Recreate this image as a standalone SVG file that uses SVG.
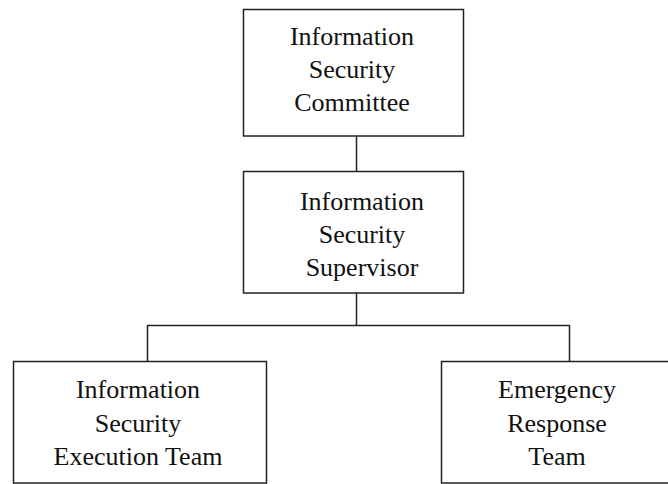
<svg xmlns="http://www.w3.org/2000/svg" width="668" height="484" viewBox="0 0 668 484">
<style>
.box{fill:#fff;stroke:#222;stroke-width:1.5}
.ln{fill:none;stroke:#222;stroke-width:1.5}
text{font-family:"Liberation Serif","Times New Roman",serif;font-size:26px;fill:#111;text-anchor:middle}
</style>
<rect width="668" height="484" fill="#fff"/>
<g id="connectors">
<line class="ln" x1="356.5" y1="136" x2="356.5" y2="171"/>
<line class="ln" x1="356.5" y1="293" x2="356.5" y2="325"/>
<polyline class="ln" points="147.5,361 147.5,325.5 569.5,325.5 569.5,361"/>
</g>
<g id="committee">
<rect class="box" x="243.5" y="9.5" width="220" height="126.5"/>
<text x="352" y="45">Information</text>
<text x="352" y="78">Security</text>
<text x="352" y="111">Committee</text>
</g>
<g id="supervisor">
<rect class="box" x="243.5" y="171.5" width="220" height="121.5"/>
<text x="362" y="210">Information</text>
<text x="362" y="243">Security</text>
<text x="362" y="276">Supervisor</text>
</g>
<g id="execution">
<rect class="box" x="13.5" y="361.5" width="253" height="121.5"/>
<text x="138" y="398">Information</text>
<text x="138" y="432">Security</text>
<text x="138" y="465">Execution Team</text>
</g>
<g id="emergency">
<rect class="box" x="441.5" y="361.5" width="240" height="121.5"/>
<text x="557" y="398">Emergency</text>
<text x="557" y="432">Response</text>
<text x="557" y="465">Team</text>
</g>
</svg>
